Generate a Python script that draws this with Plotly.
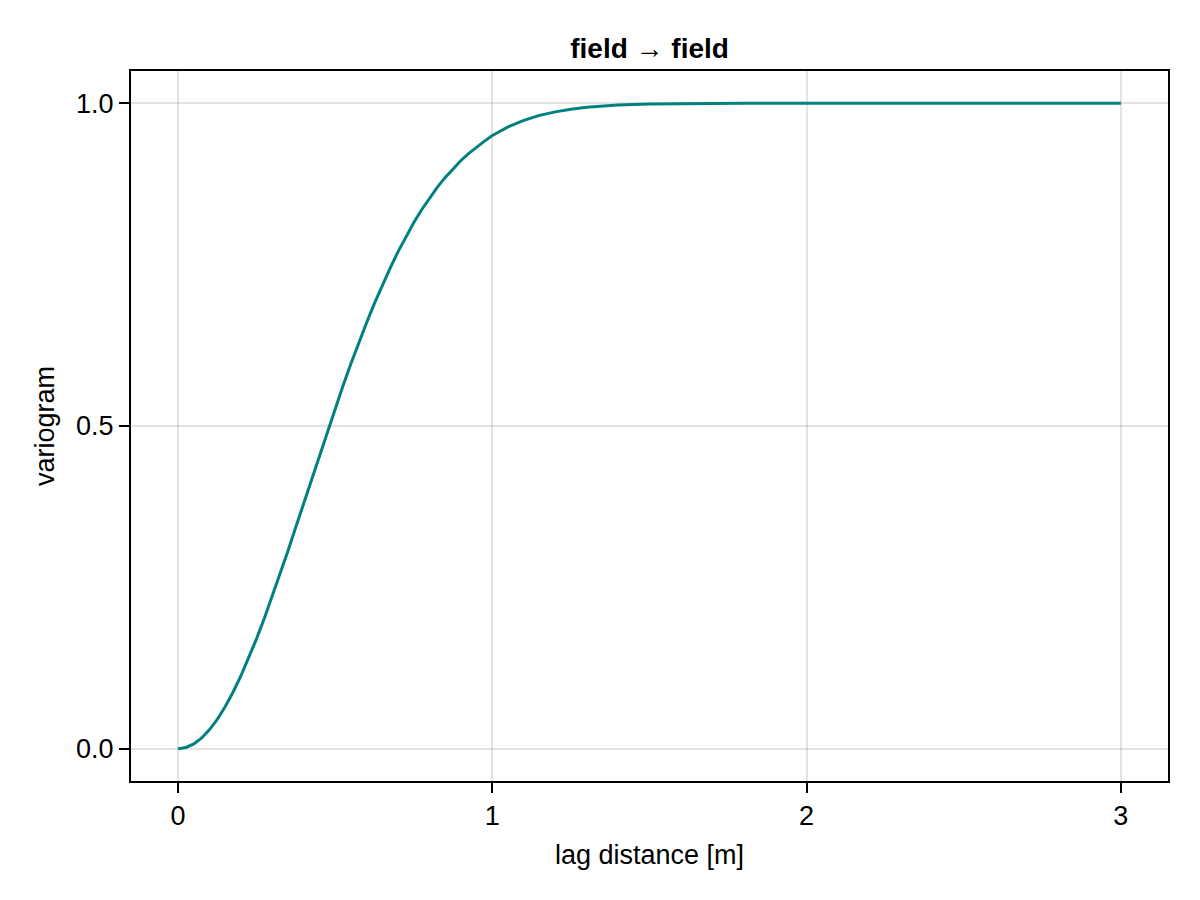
import plotly.graph_objects as go

# lag distance [m]
lag = [0.0, 0.025, 0.05, 0.075, 0.1, 0.125, 0.15, 0.175, 0.2, 0.225, 0.25,
       0.275, 0.3, 0.325, 0.35, 0.375, 0.4, 0.425, 0.45, 0.475, 0.5, 0.525,
       0.55, 0.575, 0.6, 0.625, 0.65, 0.675, 0.7, 0.725, 0.75, 0.775, 0.8,
       0.825, 0.85, 0.875, 0.9, 0.925, 0.95, 0.975, 1.0, 1.05, 1.1, 1.15,
       1.2, 1.25, 1.3, 1.4, 1.5, 1.6, 1.8, 2.0, 2.5, 3.0]
# variogram values
gamma = [0.0, 0.002, 0.0075, 0.0167, 0.0296, 0.0458, 0.0653, 0.0879, 0.1131,
         0.141, 0.171, 0.2029, 0.2366, 0.2717, 0.3073, 0.3442, 0.3812, 0.4183,
         0.4552, 0.4916, 0.5276, 0.5627, 0.5967, 0.6294, 0.6603, 0.6903,
         0.7186, 0.7451, 0.7701, 0.7935, 0.8153, 0.8351, 0.8534, 0.8701,
         0.8852, 0.8989, 0.9113, 0.9225, 0.9324, 0.9414, 0.9502, 0.9634,
         0.9734, 0.9813, 0.9867, 0.9908, 0.9937, 0.9972, 0.9988, 0.9995,
         0.9999, 1.0, 1.0, 1.0]

x_ticks = [0, 1, 2, 3]
x_ticklabels = ["0", "1", "2", "3"]
y_ticks = [0.0, 0.5, 1.0]
y_ticklabels = ["0.0", "0.5", "1.0"]

FONT = "Liberation Sans, Arial, Helvetica, sans-serif"
FS = 27

fig = go.Figure()
fig.add_trace(go.Scatter(x=lag, y=gamma, mode="lines",
                         line=dict(color="#008080", width=3),
                         showlegend=False, hoverinfo="skip"))

axis_common = dict(
    showline=True, linecolor="black", linewidth=2, mirror=True,
    showgrid=True, gridcolor="rgba(0,0,0,0.11)", gridwidth=1.5,
    ticks="outside", ticklen=10, tickwidth=2, tickcolor="black",
    zeroline=False,
    tickfont=dict(family=FONT, size=FS, color="black"),
)

fig.update_layout(
    width=1200, height=900,
    margin=dict(l=131, r=32, t=71, b=119),
    paper_bgcolor="white", plot_bgcolor="white",
    title=dict(text="<b>field → field</b>", x=0.5413, xanchor="center",
               y=1 - 48 / 900, yanchor="middle",
               font=dict(family=FONT, size=28, color="black")),
    xaxis=dict(range=[-0.15, 3.15], tickvals=x_ticks, ticktext=x_ticklabels,
               title=dict(text="lag distance [m]", standoff=15,
                          font=dict(family=FONT, size=FS, color="black")),
               **axis_common),
    yaxis=dict(range=[-0.05, 1.05], tickvals=y_ticks, ticktext=y_ticklabels,
               title=dict(text="variogram", standoff=14,
                          font=dict(family=FONT, size=FS, color="black")),
               **axis_common),
)

fig.write_html("out.html")
